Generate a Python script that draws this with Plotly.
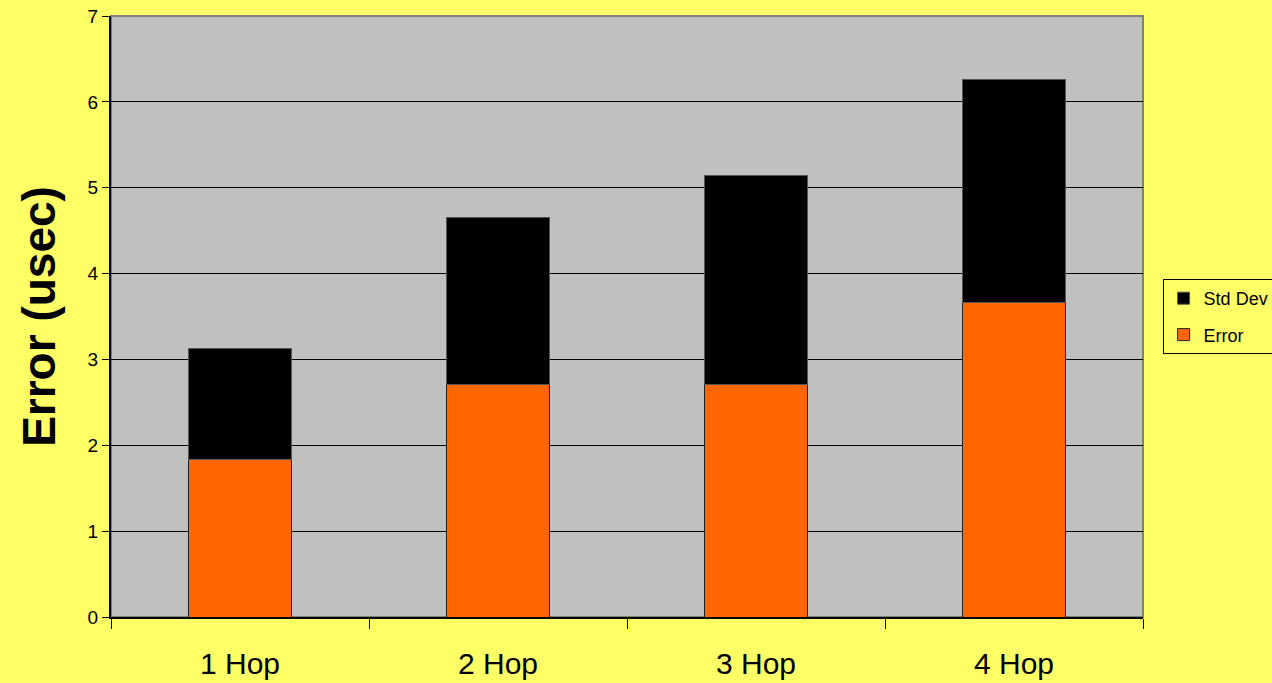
import plotly.graph_objects as go

# Hop count categories and measured timing values (microseconds)
hops = ["1 Hop", "2 Hop", "3 Hop", "4 Hop"]
error_vals = [1.84, 2.71, 2.71, 3.66]
std_dev_vals = [1.29, 1.94, 2.43, 2.60]

FONT = "Liberation Sans, Arial, sans-serif"
BG = "#FFFF66"
ORANGE = "#FF6600"

fig = go.Figure()
fig.add_trace(go.Bar(
    x=hops, y=error_vals, name="Error", legendgroup="err", legendrank=2,
    marker=dict(color=ORANGE, line=dict(color="#222222", width=1)),
))
fig.add_trace(go.Bar(
    x=hops, y=std_dev_vals, name="Std Dev", legendgroup="std", legendrank=1,
    marker=dict(color="#000000", line=dict(color="#555555", width=1)),
))

# gray frame around the plotting area
fig.add_shape(type="rect", xref="paper", yref="paper", x0=0, x1=1, y0=0, y1=1,
              line=dict(color="#808080", width=2), layer="below")

fig.update_layout(
    width=1272, height=683,
    barmode="stack", bargap=0.6,
    paper_bgcolor=BG, plot_bgcolor="#C0C0C0",
    margin=dict(l=111, r=129, t=16, b=66, autoexpand=False),
    font=dict(family=FONT, color="#000000"),
    showlegend=True,
    legend=dict(
        x=1.019, y=0.5, xanchor="left", yanchor="middle",
        traceorder="grouped", tracegroupgap=10,
        bgcolor=BG, bordercolor="#000000", borderwidth=1,
        font=dict(size=18, family=FONT),
        itemwidth=30,
    ),
    xaxis=dict(
        showgrid=False,
        showline=True, linecolor="#000000", linewidth=2,
        ticks="outside", tickson="boundaries", ticklen=10, tickcolor="#000000",
        tickfont=dict(size=30, family=FONT),
        ticklabelstandoff=19,
    ),
    yaxis=dict(
        range=[0, 7], dtick=1,
        showgrid=True, gridcolor="#000000", gridwidth=1,
        showline=True, linecolor="#000000", linewidth=2,
        ticks="outside", ticklen=7, tickcolor="#000000",
        tickfont=dict(size=19, family=FONT),
        zeroline=False,
        title=dict(text="<b>Error (usec)</b>", font=dict(size=46, family=FONT), standoff=18),
    ),
)

fig.write_html("out.html")
